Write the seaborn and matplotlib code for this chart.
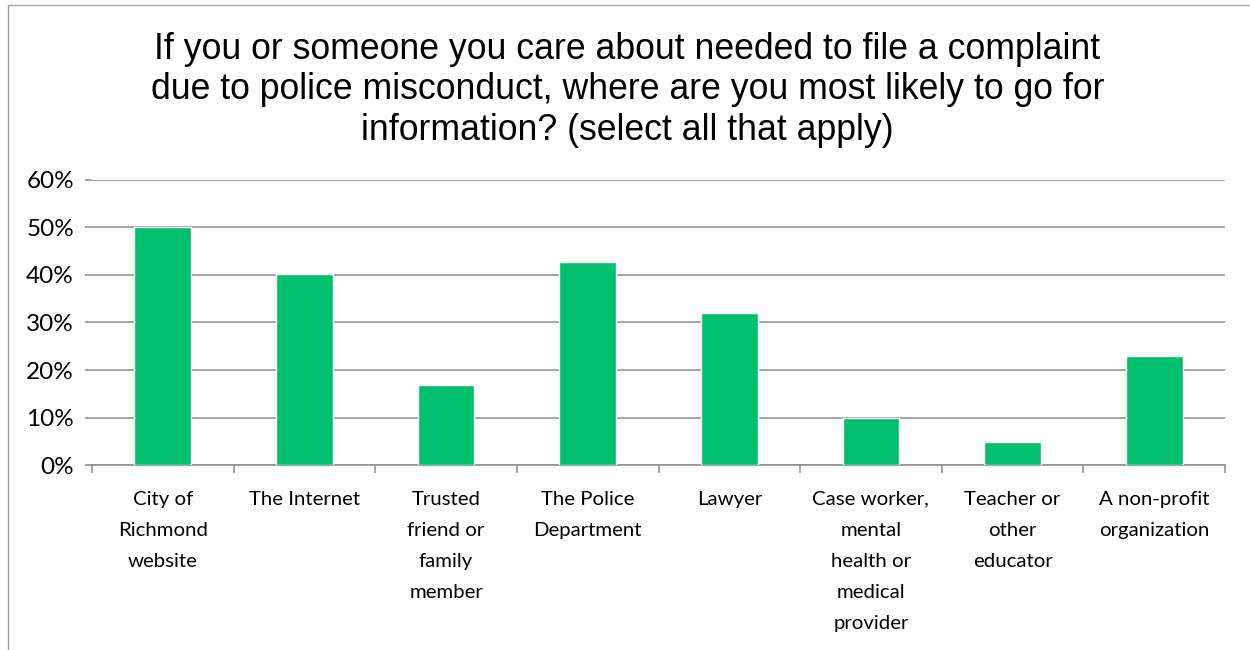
import matplotlib
matplotlib.use('Agg')
import matplotlib.pyplot as plt
from matplotlib.patches import Rectangle
import seaborn as sns

title = ('If you or someone you care about needed to file a complaint\n'
         'due to police misconduct, where are you most likely to go for\n'
         'information? (select all that apply)')

sources = ['City of\nRichmond\nwebsite', 'The Internet', 'Trusted\nfriend or\nfamily\nmember',
           'The Police\nDepartment', 'Lawyer', 'Case worker,\nmental\nhealth or\nmedical\nprovider',
           'Teacher or\nother\neducator', 'A non-profit\norganization']
share = [0.50, 0.402, 0.168, 0.427, 0.319, 0.098, 0.048, 0.229]
ytick_vals = [0, 0.1, 0.2, 0.3, 0.4, 0.5, 0.6]
ytick_labels = ['0%', '10%', '20%', '30%', '40%', '50%', '60%']

sns.set_style('white')
plt.rcParams['font.family'] = ['Lato', 'DejaVu Sans']
plt.rcParams['text.color'] = 'black'
plt.rcParams['xtick.labelcolor'] = 'black'
plt.rcParams['ytick.labelcolor'] = 'black'

fig = plt.figure(figsize=(12.5, 6.5), dpi=100)
ax = fig.add_axes([0.0736, 0.2846, 0.9064, 0.4385])

sns.barplot(x=list(range(len(sources))), y=share, color='#00BF6F', width=0.4,
            saturation=1, ax=ax, zorder=3)

grey = '#8c8c8c'
ax.set_ylim(0, 0.6)
ax.set_xlim(-0.5, len(sources) - 0.5)
ax.set_yticks(ytick_vals)
ax.set_yticklabels(ytick_labels, fontsize=17.5)
ax.yaxis.grid(True, color=grey, linewidth=1.1, zorder=0)
ax.set_axisbelow(True)
ax.tick_params(axis='y', length=5, width=1.1, color=grey, pad=8, left=True)

ax.set_xticks(range(len(sources)))
ax.set_xticklabels(sources, fontsize=14.7, linespacing=2.0, va='top')
ax.tick_params(axis='x', which='major', length=0, pad=18.5)
ax.set_xticks([i - 0.5 for i in range(len(sources) + 1)], minor=True)
ax.tick_params(axis='x', which='minor', length=6, width=1.1, color=grey, bottom=True)

for side in ['top', 'right', 'left']:
    ax.spines[side].set_visible(False)
ax.spines['bottom'].set_color(grey)
ax.spines['bottom'].set_linewidth(1.1)
ax.set_xlabel('')
ax.set_ylabel('')

fig.text(0.502, 0.862, title, ha='center', va='center', fontsize=25.7, color='black',
         family=['Liberation Sans', 'DejaVu Sans'], linespacing=1.2)

# grey frame of the chart area
fig.patches.append(Rectangle((8 / 1250, -0.1), 1.2, 0.1 + 1 - 5 / 650, transform=fig.transFigure,
                             fill=False, edgecolor='#a0a0a0', linewidth=1.0))

fig.savefig('out.png', dpi=100)
